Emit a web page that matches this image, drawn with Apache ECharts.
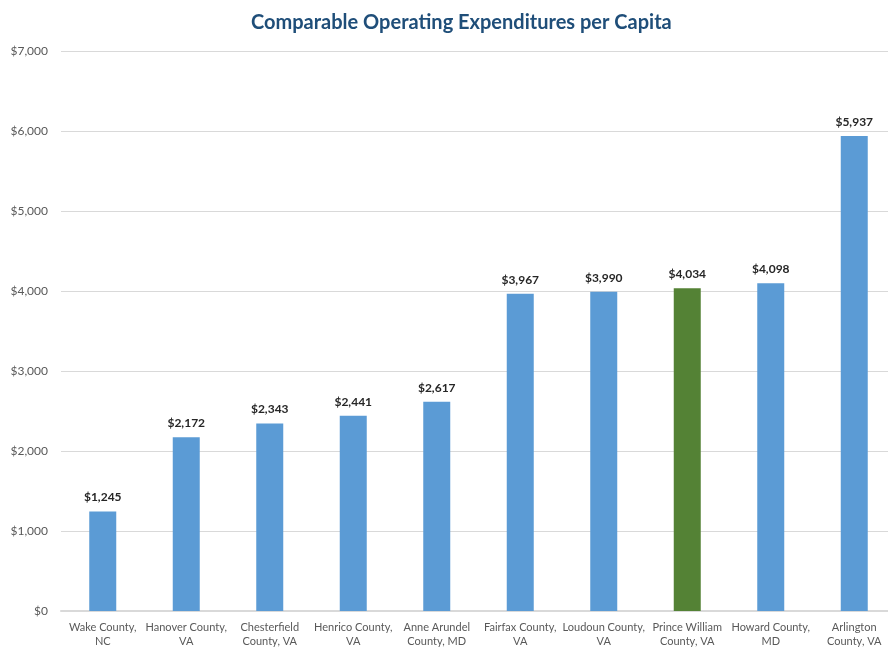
<!DOCTYPE html>
<html>
<head>
<meta charset="utf-8">
<script src="https://cdn.jsdelivr.net/npm/echarts@6/dist/echarts.min.js"></script>
<style>
  html, body { margin: 0; padding: 0; background: #fff; overflow: hidden; }
  #chart { width: 888px; height: 648px; }
</style>
</head>
<body>
<div id="chart"></div>
<script>
// Per-capita operating expenditures by jurisdiction
const counties = [
  'Wake County,\nNC', 'Hanover County,\nVA', 'Chesterfield\nCounty, VA', 'Henrico County,\nVA',
  'Anne Arundel\nCounty, MD', 'Fairfax County,\nVA', 'Loudoun County,\nVA', 'Prince William\nCounty, VA',
  'Howard County,\nMD', 'Arlington\nCounty, VA'
];
const expenditures = [1245, 2172, 2343, 2441, 2617, 3967, 3990, 4034, 4098, 5937];
const highlighted = 'Prince William\nCounty, VA';

const fontFamily = 'Lato, "Open Sans", sans-serif';
const fmt = v => '$' + v.toLocaleString('en-US');

const chart = echarts.init(document.getElementById('chart'));
chart.setOption({
  animation: false,
  title: {
    text: 'Comparable Operating Expenditures per Capita',
    left: 246,
    top: 8,
    textStyle: { color: '#1F4E79', fontSize: 20, fontWeight: 'bold', fontFamily }
  },
  // plot area runs slightly past the right edge of the canvas
  grid: { left: 61, width: 835, top: 51, bottom: 37, outerBoundsMode: 'none' },
  xAxis: {
    type: 'category',
    data: counties,
    axisLine: { lineStyle: { color: '#D9D9D9', width: 2 } },
    axisTick: { show: false },
    axisLabel: { color: '#595959', fontSize: 11, fontFamily, lineHeight: 14, margin: 9, interval: 0 }
  },
  yAxis: {
    type: 'value',
    min: 0,
    max: 7000,
    interval: 1000,
    axisLine: { show: false },
    axisTick: { show: false },
    splitLine: { lineStyle: { color: '#D9D9D9', width: 1 } },
    axisLabel: { color: '#595959', fontSize: 12, fontFamily, margin: 13, formatter: fmt }
  },
  series: [{
    type: 'bar',
    barWidth: 27,
    data: expenditures.map((v, i) => ({
      value: v,
      itemStyle: { color: counties[i] === highlighted ? '#548235' : '#5B9BD5' }
    })),
    label: {
      show: true,
      position: 'top',
      distance: 8,
      color: '#262626',
      fontSize: 12,
      fontWeight: 'bold',
      fontFamily,
      formatter: p => fmt(p.value)
    }
  }]
});
</script>
</body>
</html>
